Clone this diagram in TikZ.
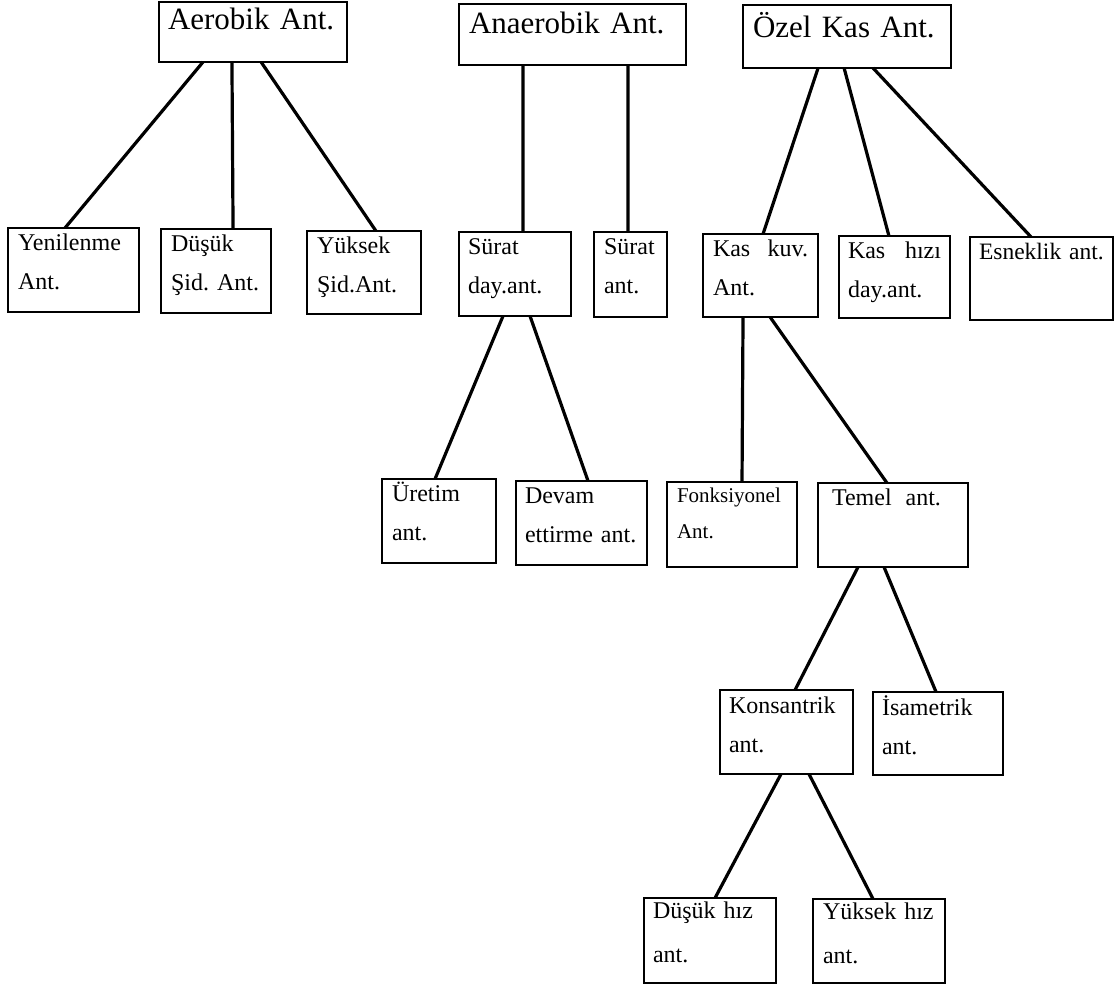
\documentclass[tikz,border=0pt]{standalone}
\usepackage{fontspec}
\setmainfont{Liberation Serif}
\usepackage{tikz}
\usetikzlibrary{calc}
\frenchspacing

\begin{document}
\begin{tikzpicture}[x = 1pt, y = -1pt,
                      kutu/.style = {draw, line width = 1.7pt, anchor = north west, align = left,
                                     inner xsep = 10pt, inner ysep = 0pt, outer sep = 0pt,
                                     font = \fontsize{24}{39}\selectfont,
                                     text height = 22pt, text depth = 62pt},
                      ust/.style = {kutu, inner xsep = 9pt, font = \fontsize{31}{36}\selectfont},
                      hat/.style = {line width = 3.2pt}]
    \useasboundingbox (0, 0) rectangle (1115, 988);

    \node [ust, text width = 170pt, text height = 27pt, text depth = 33pt] (aer) at (159, 2) {Aerobik Ant.};
    \node [ust, inner xsep = 10pt, text width = 207pt, text height = 29pt, text depth = 32pt] (ana) at (459, 4) {Anaerobik Ant.};
    \node [ust, inner xsep = 10pt, text width = 188pt, text height = 32pt, text depth = 31pt] (ozl) at (743, 5) {Özel Kas Ant.};

    \node [kutu, text width = 111pt] (yen) at (8, 228) {Yenilenme\\Ant.};
    \node [kutu, text width = 90pt] (dus) at (161, 229) {Düşük\\Şid. Ant.};
    \node [kutu, text width = 94pt, text depth = 61pt] (yuk) at (307, 231) {Yüksek\\Şid.Ant.};
    \node [kutu, inner xsep = 9pt, text width = 94pt] (sdy) at (459, 232) {Sürat\\day.ant.};
    \node [kutu, text width = 53pt, text depth = 63pt] (sra) at (594, 232) {Sürat\\ant.};
    \node [kutu, text width = 95pt, text depth = 61pt] (kkv) at (703, 234) {Kas\hfill kuv.\\Ant.};
    \node [kutu, inner xsep = 9pt, text width = 93pt, text depth = 60pt] (khz) at (839, 236) {Kas\hfill hızı\\day.ant.};
    \node [kutu, inner xsep = 9pt, text width = 125pt, text depth = 61pt,
           font = \fontsize{23.5}{39}\selectfont] (esn) at (970, 237) {Esneklik ant.};

    \node [kutu, text width = 94pt] (urt) at (382, 479) {Üretim\\ant.};
    \node [kutu, inner xsep = 9pt, text width = 113pt] (dvm) at (516, 481) {Devam\\ettirme ant.};
    \node [kutu, text width = 110pt, font = \fontsize{21}{36}\selectfont,
           text height = 20pt, text depth = 65pt] (fnk) at (667, 482) {Fonksiyonel\\Ant.};
    \node [kutu, inner xsep = 14pt, text width = 122pt] (tml) at (818, 483) {Temel\hspace{14pt}ant.};

    \node [kutu, inner xsep = 9pt, text width = 115pt, text height = 23pt, text depth = 61pt] (kns) at (720, 690) {Konsantrik\\ant.};
    \node [kutu, inner xsep = 9pt, text width = 112pt, text height = 23pt, text depth = 60pt] (isa) at (873, 692) {İsametrik\\ant.};

    \node [kutu, inner xsep = 9pt, text width = 114pt, font = \fontsize{24}{44}\selectfont,
           text height = 20pt, text depth = 65pt] (dhz) at (644, 898) {Düşük hız\\ant.};
    \node [kutu, inner xsep = 10pt, text width = 112pt, font = \fontsize{24}{44}\selectfont,
           text height = 20pt, text depth = 64pt] (yhz) at (813, 899) {Yüksek hız\\ant.};

    \draw[hat] ($(aer.south west)!0.234!(aer.south east)$) -- ($(yen.north west)!0.435!(yen.north east)$);
    \draw[hat] ($(aer.south west)!0.388!(aer.south east)$) -- ($(dus.north west)!0.655!(dus.north east)$);
    \draw[hat] ($(aer.south west)!0.543!(aer.south east)$) -- ($(yuk.north west)!0.605!(yuk.north east)$);

    \draw[hat] ($(ana.south west)!0.282!(ana.south east)$) -- ($(sdy.north west)!0.571!(sdy.north east)$);
    \draw[hat] ($(ana.south west)!0.744!(ana.south east)$) -- ($(sra.north west)!0.466!(sra.north east)$);

    \draw[hat] ($(ozl.south west)!0.361!(ozl.south east)$) -- ($(kkv.north west)!0.522!(kkv.north east)$);
    \draw[hat] ($(ozl.south west)!0.486!(ozl.south east)$) -- ($(khz.north west)!0.45!(khz.north east)$);
    \draw[hat] ($(ozl.south west)!0.625!(ozl.south east)$) -- ($(esn.north west)!0.427!(esn.north east)$);

    \draw[hat] ($(sdy.south west)!0.393!(sdy.south east)$) -- ($(urt.north west)!0.465!(urt.north east)$);
    \draw[hat] ($(sdy.south west)!0.634!(sdy.south east)$) -- ($(dvm.north west)!0.55!(dvm.north east)$);

    \draw[hat] ($(kkv.south west)!0.348!(kkv.south east)$) -- ($(fnk.north west)!0.577!(fnk.north east)$);
    \draw[hat] ($(kkv.south west)!0.583!(kkv.south east)$) -- ($(tml.north west)!0.46!(tml.north east)$);

    \draw[hat] ($(tml.south west)!0.267!(tml.south east)$) -- ($(kns.north west)!0.564!(kns.north east)$);
    \draw[hat] ($(tml.south west)!0.44!(tml.south east)$) -- ($(isa.north west)!0.485!(isa.north east)$);

    \draw[hat] ($(kns.south west)!0.459!(kns.south east)$) -- ($(dhz.north west)!0.538!(dhz.north east)$);
    \draw[hat] ($(kns.south west)!0.669!(kns.south east)$) -- ($(yhz.north west)!0.455!(yhz.north east)$);
\end{tikzpicture}
\end{document}
